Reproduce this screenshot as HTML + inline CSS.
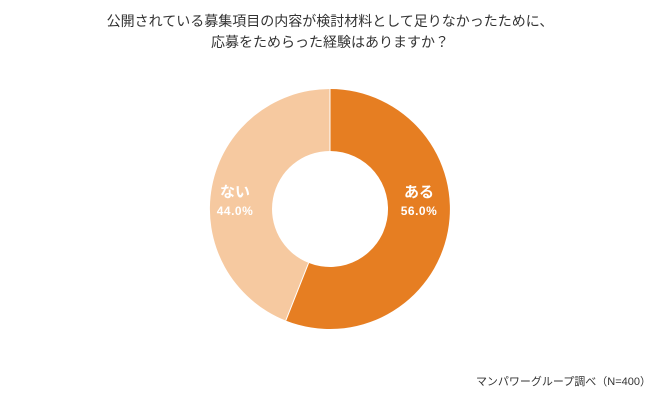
<!DOCTYPE html>
<html><head><meta charset="utf-8"><style>
body{margin:0;width:660px;height:400px;background:#fff;overflow:hidden;font-family:"Liberation Sans","Noto Sans CJK JP",sans-serif;}
</style></head><body>
<svg width="660" height="400" xmlns="http://www.w3.org/2000/svg" style="position:absolute;left:0;top:0">
<text x="330" y="26" text-anchor="middle" font-size="14" fill="#333" font-family="Liberation Sans, Noto Sans CJK JP, sans-serif">公開されている募集項目の内容が検討材料として足りなかったために、</text>
<text x="330" y="47" text-anchor="middle" font-size="14" fill="#333" font-family="Liberation Sans, Noto Sans CJK JP, sans-serif">応募をためらった経験はありますか？</text>
<path d="M330,89 A120,120 0 1 1 285.8,320.6 L308.6,262.9 A58,58 0 1 0 330,151 Z" fill="#E67E22"/>
<path d="M285.8,320.6 A120,120 0 0 1 330,89 L330,151 A58,58 0 0 0 308.6,262.9 Z" fill="#F6C9A0"/>
<line x1="330" y1="89" x2="330" y2="151" stroke="#fff" stroke-width="1"/>
<line x1="285.8" y1="320.6" x2="308.6" y2="262.9" stroke="#fff" stroke-width="1"/>
<g fill="#fff" font-weight="bold" text-anchor="middle" font-family="Liberation Sans, Noto Sans CJK JP, sans-serif">
<text x="419" y="197" font-size="15">ある</text>
<text x="419" y="215" font-size="12" letter-spacing="0.5">56.0%</text>
<text x="235" y="197" font-size="15">ない</text>
<text x="235" y="215" font-size="12" letter-spacing="0.5">44.0%</text>
</g>
<text x="651" y="385" text-anchor="end" font-size="11" fill="#333" font-family="Liberation Sans, Noto Sans CJK JP, sans-serif">マンパワーグループ調べ（N=400）</text>
</svg>
</body></html>
